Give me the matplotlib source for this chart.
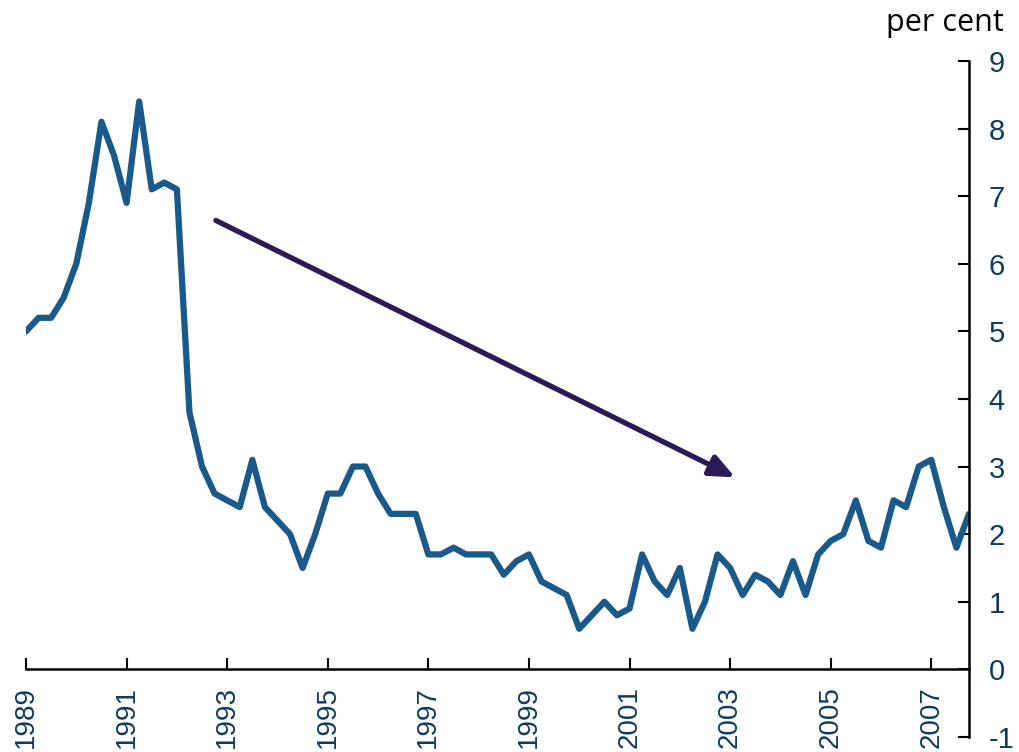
import numpy as np
import matplotlib
matplotlib.use("Agg")
import matplotlib.pyplot as plt

# quarterly, 1989Q1 .. 2007Q4
values = [
    5.0, 5.2, 5.2, 5.5,
    6.0, 6.9, 8.1, 7.6,
    6.9, 8.4, 7.1, 7.2,
    7.1, 3.8, 3.0, 2.6,
    2.5, 2.4, 3.1, 2.4,
    2.2, 2.0, 1.5, 2.0,
    2.6, 2.6, 3.0, 3.0,
    2.6, 2.3, 2.3, 2.3,
    1.7, 1.7, 1.8, 1.7,
    1.7, 1.7, 1.4, 1.6,
    1.7, 1.3, 1.2, 1.1,
    0.6, 0.8, 1.0, 0.8,
    0.9, 1.7, 1.3, 1.1,
    1.5, 0.6, 1.0, 1.7,
    1.5, 1.1, 1.4, 1.3,
    1.1, 1.6, 1.1, 1.7,
    1.9, 2.0, 2.5, 1.9,
    1.8, 2.5, 2.4, 3.0,
    3.1, 2.4, 1.8, 2.3,
]
year_labels = ["1989", "1991", "1993", "1995", "1997", "1999",
               "2001", "2003", "2005", "2007"]
y_ticks = [-1, 0, 1, 2, 3, 4, 5, 6, 7, 8, 9]

# trend arrow (quarter index, per cent)
arrow_start = (15.1, 6.64)
arrow_end = (56.4, 2.84)

line_color = "#1a5a8a"
label_color = "#0f3b5f"
arrow_color = "#2b1a55"

plt.rcParams["font.family"] = ["Liberation Sans", "DejaVu Sans"]

fig = plt.figure(figsize=(10.2, 7.52), dpi=100)
ax = fig.add_axes([0.0255, 0.02, 0.9245, 0.899])

x = np.arange(len(values))
ax.plot(x, values, color=line_color, lw=4.5, solid_joinstyle="round",
        solid_capstyle="round")

ax.annotate("", xy=arrow_end, xytext=arrow_start,
            arrowprops=dict(arrowstyle="-|>,head_length=1.5,head_width=0.65",
                            color=arrow_color, lw=3.8, shrinkA=0, shrinkB=0))

ax.set_xlim(0, len(values) - 1)
ax.set_ylim(-1, 9)

ax.spines["top"].set_visible(False)
ax.spines["left"].set_visible(False)
ax.spines["bottom"].set_position(("data", 0))
ax.spines["bottom"].set_linewidth(1.8)
ax.spines["right"].set_linewidth(1.8)

ax.yaxis.tick_right()
ax.set_yticks(y_ticks)
ax.set_yticklabels([str(t) for t in y_ticks])
ax.tick_params(axis="y", direction="in", length=8, width=1.5, pad=14,
               labelsize=21, labelcolor=label_color)

ax.set_xticks(x[::8])
ax.set_xticklabels(year_labels, rotation=90)
ax.tick_params(axis="x", direction="in", length=8, width=1.5, pad=12,
               labelsize=20, labelcolor=label_color)

fig.text(0.984, 0.99, "per cent", ha="right", va="top", fontsize=22,
         family=["Open Sans", "DejaVu Sans"], color="black")

fig.savefig("out.png", dpi=100)
